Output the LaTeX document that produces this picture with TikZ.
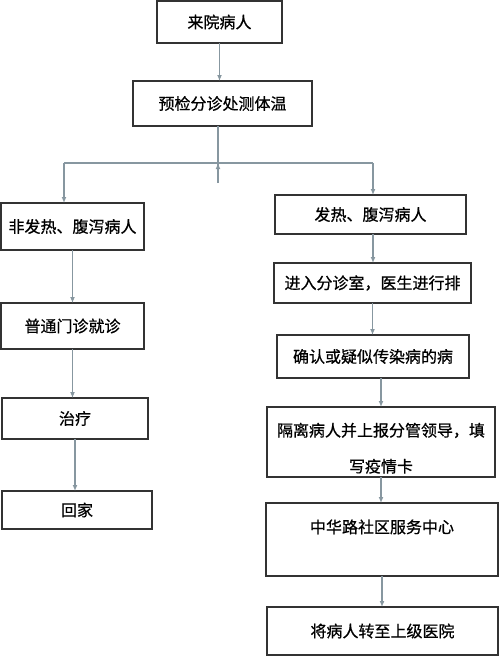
\documentclass[tikz,border=0pt]{standalone}
\usepackage{fontspec}
\setmainfont{Noto Sans CJK SC}[RawFeature={embolden=0.7}]
\usetikzlibrary{arrows.meta}
\definecolor{boxgray}{HTML}{333333}
\definecolor{flowgray}{HTML}{8797A0}

\begin{document}
\begin{tikzpicture}[x=1pt,y=-1pt,
    box/.style={draw=boxgray,line width=1.2pt,inner sep=2pt,outer sep=0pt,
      font=\fontsize{16pt}{19pt}\selectfont},
    flow/.style={draw=flowgray,line width=1.5pt,-{Latex[length=6pt,width=5pt]}},
    link/.style={draw=flowgray,line width=1.5pt}]
  \useasboundingbox (0,0) rectangle (500,657);
  % top part
  \node[box,minimum width=125pt,minimum height=42pt] (arrive) at (219.5,22)
    {来院病人}; \node[box,minimum width=179pt,minimum height=45pt] (triage) at (222.5,103.5)
    {预检分诊处测体温};
  \coordinate (split) at (218,163); \coordinate (stub) at (218,183);
  \coordinate (splitL) at (64,163); \coordinate (splitR) at (373,163);
  % left column
  \node[box,minimum width=143pt,minimum height=47pt] (nofever) at (72.5,226.5)
    {非发热、腹泻病人}; \node[box,minimum width=143pt,minimum height=46pt] (clinic) at (72.5,326)
    {普通门诊就诊}; \node[box,minimum width=146pt,minimum height=41pt] (treat) at (75,418.5)
    {治疗}; \node[box,minimum width=150pt,minimum height=38pt] (home) at (77,510)
    {回家};
  % right column
  \node[box,minimum width=191pt,minimum height=39pt] (fever) at (370.5,214.5)
    {发热、腹泻病人}; \node[box,minimum width=197pt,minimum height=40pt] (room) at (372.5,283)
    {进入分诊室，医生进行排}; \node[box,minimum width=192pt,minimum height=43pt] (suspect) at (373,356.5)
    {确认或疑似传染病的病}; \node[box,minimum width=228pt,minimum height=70pt,align=center,
    font=\fontsize{16pt}{36pt}\selectfont] (isolate) at (381,442)
    {\rule{0pt}{26pt}隔离病人并上报分管领导，填\\写疫情卡}; \node[box,minimum width=232pt,minimum height=73pt,
    text height=13pt,text depth=26pt] (center) at (382,539.5)
    {中华路社区服务中心}; \node[box,minimum width=231pt,minimum height=48pt] (transfer) at (382.5,631)
    {将病人转至上级医院};
  % connectors
  \draw[flow] (arrive) -- (arrive |- triage.north);
  \draw[link] (triage.south -| split) -- (stub); \draw[flow] (stub) -- (split);
  \draw[link] (splitL) -- (splitR);
  \draw[flow] (splitL) -- (splitL |- nofever.north); \draw[flow] (splitR) -- (splitR |- fever.north);
  \draw[flow] (nofever) -- (nofever |- clinic.north); \draw[flow] (clinic) -- (clinic |- treat.north);
  \draw[flow] (treat) -- (treat |- home.north);
  \draw[flow] (fever.south -| splitR) -- (splitR |- room.north); \draw[flow] (room) -- (room |- suspect.north);
  \draw[flow] (suspect.south -| isolate) -- (isolate.north); \draw[flow] (isolate) -- (isolate |- center.north);
  \draw[flow] (center) -- (center |- transfer.north);
\end{tikzpicture}
\end{document}
